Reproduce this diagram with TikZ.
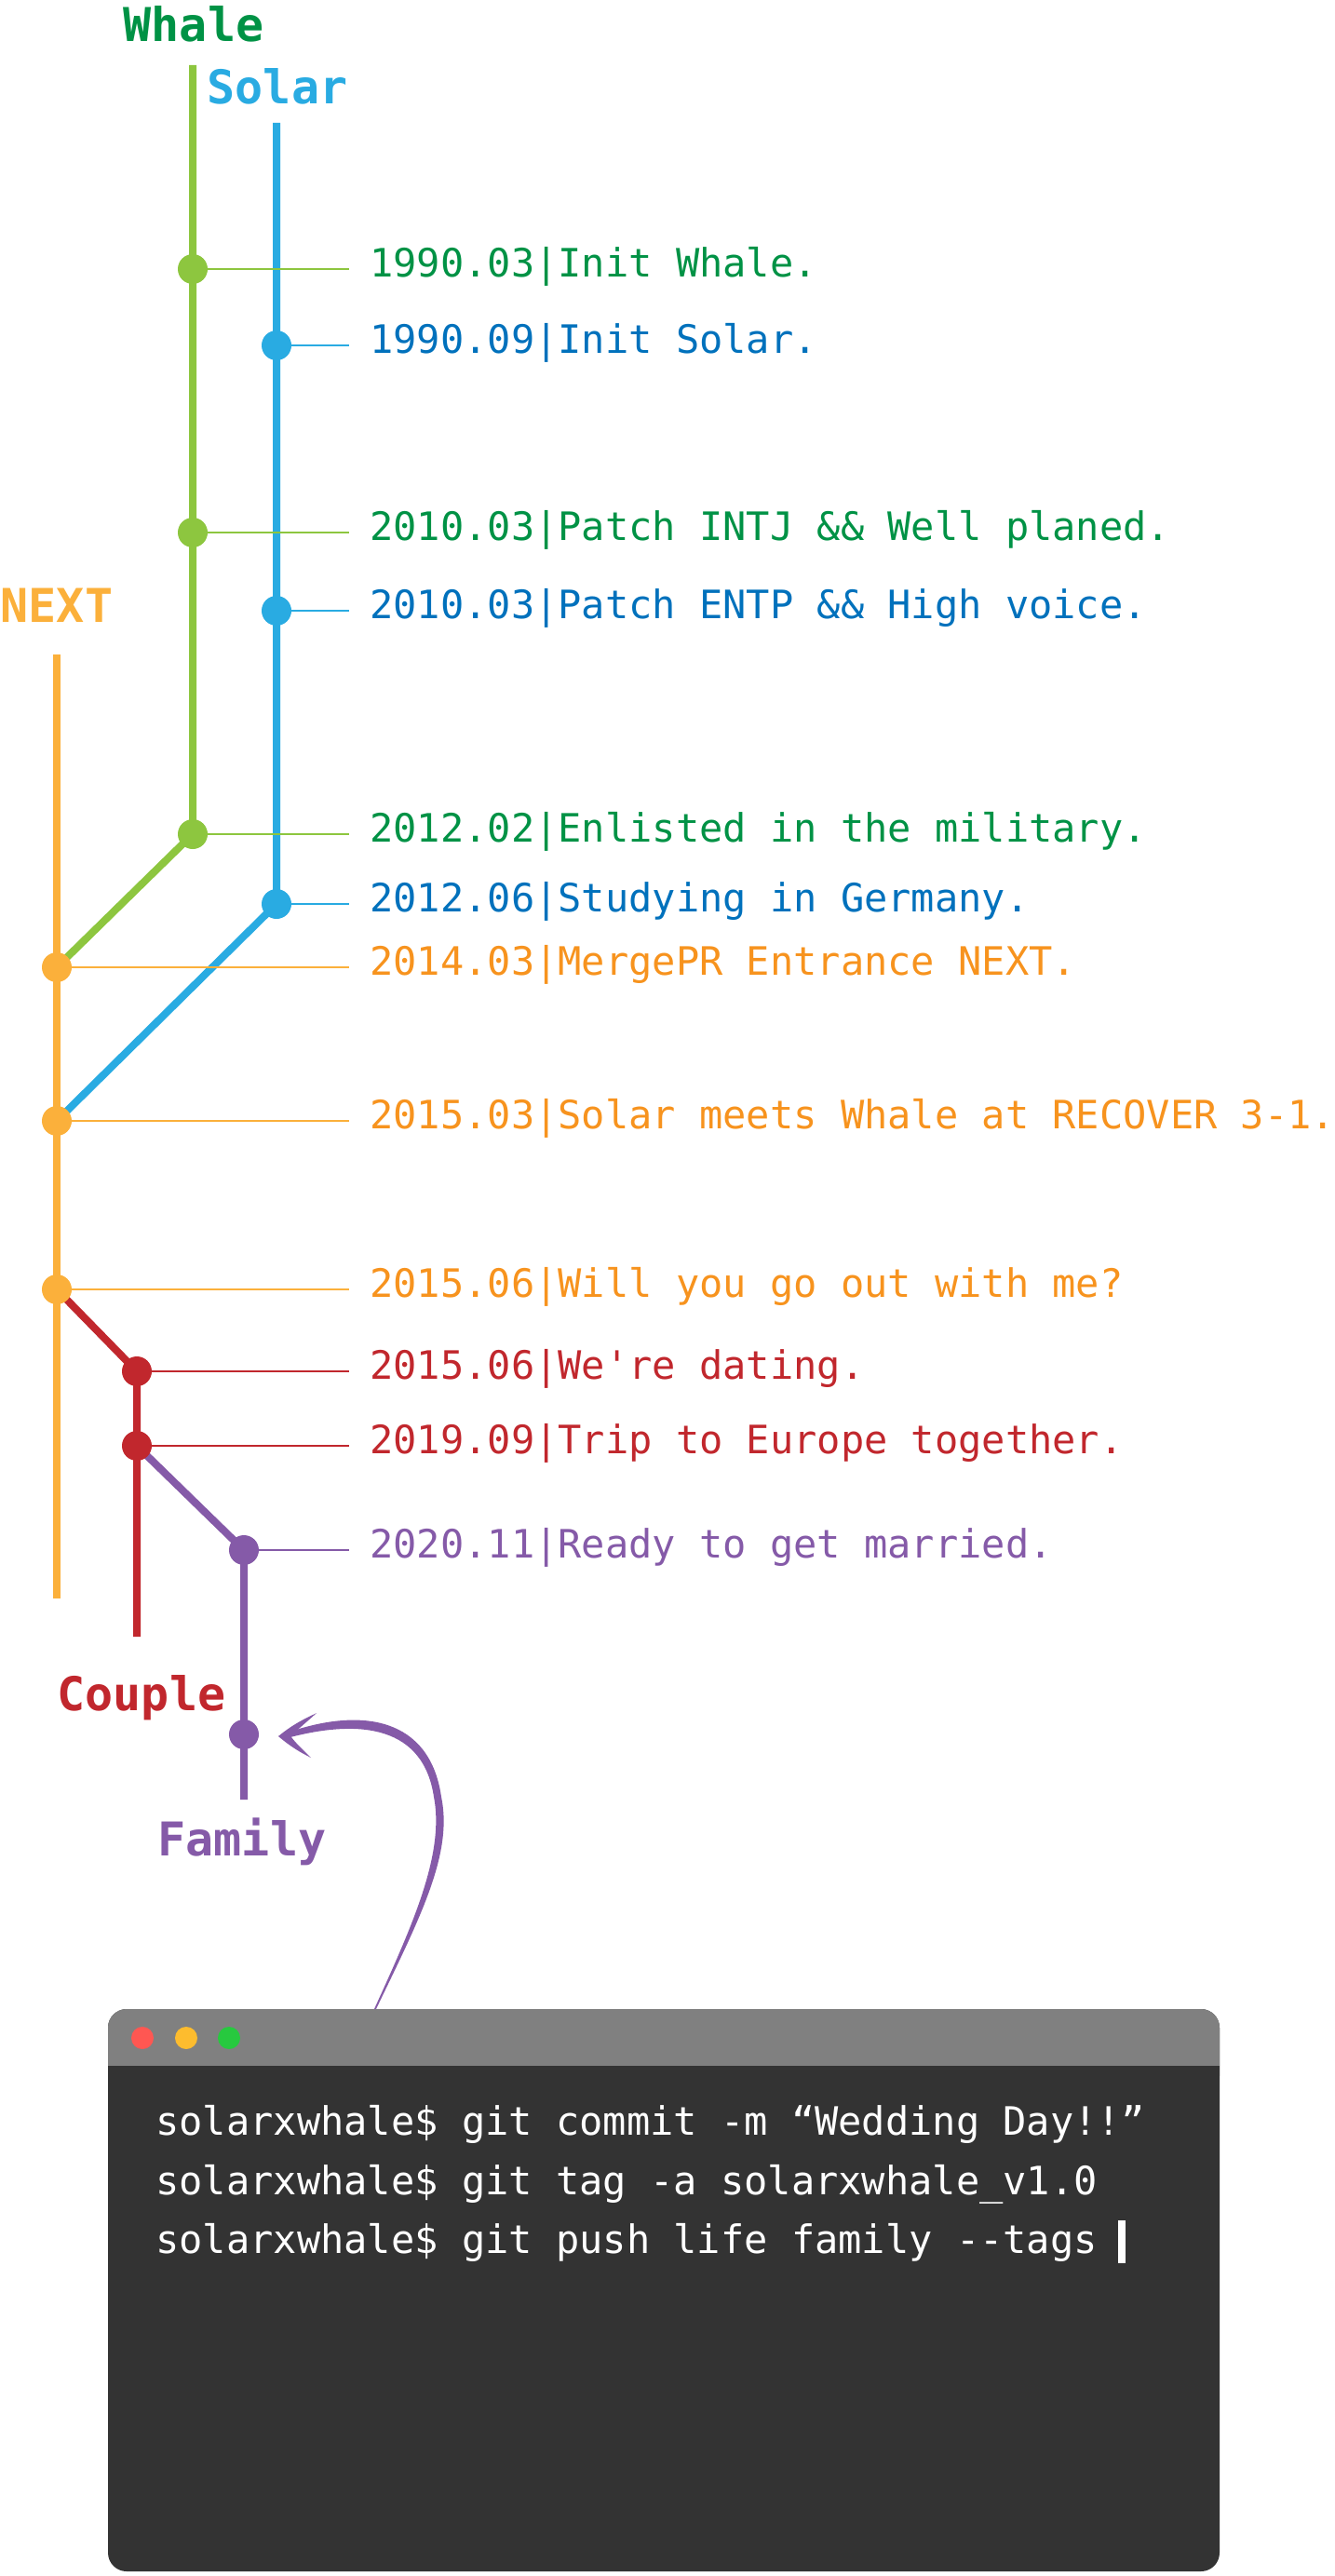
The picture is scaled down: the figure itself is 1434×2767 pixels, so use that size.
\documentclass[tikz,border=0pt]{standalone}
\usepackage{fontspec}
\setmonofont{DejaVu Sans Mono}
\definecolor{whaleB}{HTML}{8DC63F}
\definecolor{whaleT}{HTML}{009245}
\definecolor{solarB}{HTML}{29ABE2}
\definecolor{solarT}{HTML}{0071BC}
\definecolor{nextB}{HTML}{FBB03B}
\definecolor{nextT}{HTML}{F7931E}
\definecolor{coupleC}{HTML}{C1272D}
\definecolor{familyC}{HTML}{855AA8}
\definecolor{tbar}{HTML}{808080}
\definecolor{tbody}{HTML}{333333}
\definecolor{dred}{HTML}{FF5752}
\definecolor{dyel}{HTML}{FDBC2E}
\definecolor{dgrn}{HTML}{27C93F}
\pgfdeclarelayer{bg}
\pgfsetlayers{bg,main}
\tikzset{
  cdot/.style={circle, fill=#1, draw=none, minimum size=16pt, inner sep=0pt},
  branch/.style={draw=#1, line width=4pt, line join=round},
  tick/.style={draw=#1, line width=0.75pt, shorten >=11pt},
  msg/.style={anchor=base west, inner sep=0pt, text=#1,
    font=\ttfamily\fontsize{21pt}{25pt}\selectfont},
  blabel/.style={anchor=base, inner sep=0pt, text=#1,
    font=\ttfamily\bfseries\fontsize{25pt}{30pt}\selectfont},
  wdot/.style={circle, fill=#1, draw=none, minimum size=12pt, inner sep=0pt}
}
\begin{document}
\begin{tikzpicture}[x=0.5pt,y=-0.5pt]
\useasboundingbox (0,0) rectangle (1434,2767);

% branch end points
\coordinate (wtop) at (207,70);
\coordinate (stop) at (297,132);
\coordinate (ntop) at (61,703);
\coordinate (nbot) at (61,1717);
\coordinate (cbot) at (147,1758);
\coordinate (fbot) at (262,1933);

% commits
\node[cdot=whaleB] (w1) at (207,289) {};
\node[cdot=whaleB] (w2) at (207,572) {};
\node[cdot=whaleB] (w3) at (207,896) {};
\node[cdot=solarB] (s1) at (297,371) {};
\node[cdot=solarB] (s2) at (297,656) {};
\node[cdot=solarB] (s3) at (297,971) {};
\node[cdot=nextB] (n1) at (61,1039) {};
\node[cdot=nextB] (n2) at (61,1204) {};
\node[cdot=nextB] (n3) at (61,1385) {};
\node[cdot=coupleC] (c1) at (147,1473) {};
\node[cdot=coupleC] (c2) at (147,1553) {};
\node[cdot=familyC] (f1) at (262,1665) {};
\node[cdot=familyC] (f2) at (262,1863) {};

% messages
\node[msg=whaleT] (m1) at (397,297) {1990.03|Init Whale.};
\node[msg=solarT] (m2) at (397,379) {1990.09|Init Solar.};
\node[msg=whaleT] (m3) at (397,580) {2010.03|Patch INTJ \&\& Well planed.};
\node[msg=solarT] (m4) at (397,664) {2010.03|Patch ENTP \&\& High voice.};
\node[msg=whaleT] (m5) at (397,904) {2012.02|Enlisted in the military.};
\node[msg=solarT] (m6) at (397,979) {2012.06|Studying in Germany.};
\node[msg=nextT] (m7) at (397,1047) {2014.03|MergePR Entrance NEXT.};
\node[msg=nextT] (m8) at (397,1212) {2015.03|Solar meets Whale at RECOVER 3-1.};
\node[msg=nextT] (m9) at (397,1393) {2015.06|Will you go out with me?};
\node[msg=coupleC] (m10) at (397,1481) {2015.06|We're dating.};
\node[msg=coupleC] (m11) at (397,1561) {2019.09|Trip to Europe together.};
\node[msg=familyC] (m12) at (397,1673) {2020.11|Ready to get married.};

% branch names
\node[blabel=whaleT] (lw) at (208,45) {Whale};
\node[blabel=solarB] (ls) at (298,112) {Solar};
\node[blabel=nextB] (ln) at (61,668) {NEXT};
\node[blabel=coupleC] (lc) at (152,1837) {Couple};
\node[blabel=familyC] (lf) at (260,1993) {Family};

\begin{pgfonlayer}{bg}
\draw[branch=whaleB] (wtop) -- (w3.center) -- (n1.center);
\draw[branch=solarB] (stop) -- (s3.center) -- (n2.center);
\draw[branch=nextB] (ntop) -- (nbot);
\draw[branch=coupleC] (n3.center) -- (c1.center) -- (cbot);
\draw[branch=familyC] (c2.center) -- (f1.center) -- (fbot);
\draw[tick=whaleB] (w1.center) -- (m1.west |- w1.center);
\draw[tick=solarB] (s1.center) -- (m2.west |- s1.center);
\draw[tick=whaleB] (w2.center) -- (m3.west |- w2.center);
\draw[tick=solarB] (s2.center) -- (m4.west |- s2.center);
\draw[tick=whaleB] (w3.center) -- (m5.west |- w3.center);
\draw[tick=solarB] (s3.center) -- (m6.west |- s3.center);
\draw[tick=nextB] (n1.center) -- (m7.west |- n1.center);
\draw[tick=nextB] (n2.center) -- (m8.west |- n2.center);
\draw[tick=nextB] (n3.center) -- (m9.west |- n3.center);
\draw[tick=coupleC] (c1.center) -- (m10.west |- c1.center);
\draw[tick=coupleC] (c2.center) -- (m11.west |- c2.center);
\draw[tick=familyC] (f1.center) -- (m12.west |- f1.center);
\end{pgfonlayer}

% terminal window
\fill[tbody, rounded corners=10pt] (116,2158) rectangle (1310,2762);
\fill[tbar, rounded corners=10pt] (116,2158) rectangle (1310,2250);
\fill[tbody] (116,2219) rectangle (1310,2262);
\node[wdot=dred] (bred) at (153,2189) {};
\node[wdot=dyel] (byel) at (200,2189) {};
\node[wdot=dgrn] (bgrn) at (246,2189) {};
\node[msg=white] (t1) at (167,2293) {solarxwhale\$ git commit -m “Wedding Day!!”};
\node[msg=white] (t2) at (167,2357) {solarxwhale\$ git tag -a solarxwhale\_v1.0};
\node[msg=white] (t3) at (167,2420) {solarxwhale\$ git push life family -{}-tags};
\fill[white] (1201,2385) rectangle (1209,2431);

% hand-drawn arrow from the terminal to the last commit
\coordinate (astart) at (402,2158);
\coordinate (atip) at (299,1865);
\fill[familyC] (404,2158) .. controls (450,2062) and (487,1992) .. (474,1930)
  .. controls (462,1846) and (390,1832) .. (306,1862)
  -- (308,1867)
  .. controls (390,1845) and (455,1856) .. (466,1930)
  .. controls (478,1992) and (442,2070) .. (astart) -- cycle;
% arrow head (two tapered barbs)
\fill[familyC] (atip) .. controls (316,1851) and (328,1846) .. (340,1840)
  .. controls (328,1851) and (318,1859) .. (311,1866) -- cycle;
\fill[familyC] (atip) .. controls (312,1876) and (322,1882) .. (334,1888)
  .. controls (324,1878) and (316,1871) .. (311,1863) -- cycle;
\end{tikzpicture}
\end{document}
